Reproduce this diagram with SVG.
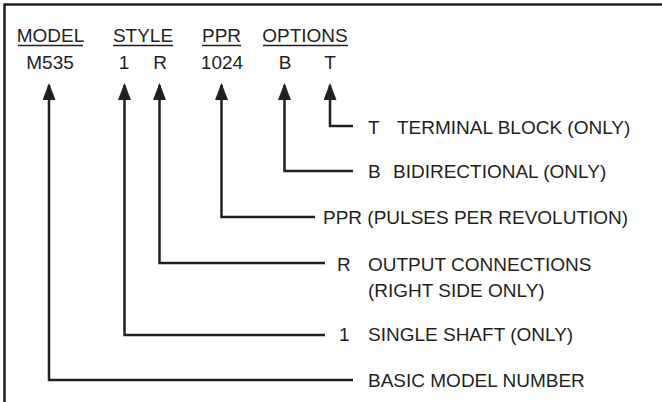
<svg xmlns="http://www.w3.org/2000/svg" width="662" height="402" viewBox="0 0 662 402">
<style>
text{font-family:"Liberation Sans",Arial,Helvetica,sans-serif;font-size:19px;fill:#231f20}
.mid{text-anchor:middle}
.c{fill:none;stroke:#231f20;stroke-width:2.5;marker-start:url(#ah)}
.ul{stroke:#231f20;stroke-width:1.3}
</style>
<defs>
<marker id="ah" markerUnits="userSpaceOnUse" viewBox="0 0 17 13" markerWidth="17" markerHeight="13" refX="15" refY="6.5" orient="auto-start-reverse">
<path d="M0,0 L17,6.5 L0,13 z" fill="#231f20"/>
</marker>
</defs>
<rect width="662" height="402" fill="#fff"/>
<path d="M4.5,402 V4.5 H662" fill="none" stroke="#231f20" stroke-width="2.5"/>
<g id="header">
<text class="mid" x="50.5" y="42">MODEL</text>
<line class="ul" x1="18" y1="45.5" x2="83" y2="45.5"/>
<text class="mid" x="143" y="42">STYLE</text>
<line class="ul" x1="113" y1="45.5" x2="173" y2="45.5"/>
<text class="mid" x="221.5" y="42">PPR</text>
<line class="ul" x1="202" y1="45.5" x2="241" y2="45.5"/>
<text class="mid" x="305" y="42">OPTIONS</text>
<line class="ul" x1="263" y1="45.5" x2="348" y2="45.5"/>
</g>
<g id="code">
<text class="mid" x="50" y="69">M535</text>
<text class="mid" x="124" y="69">1</text>
<text class="mid" x="160" y="69">R</text>
<text class="mid" x="222" y="69">1024</text>
<text class="mid" x="285" y="69">B</text>
<text class="mid" x="330" y="69">T</text>
</g>
<g id="connectors">
<path class="c" d="M49,85 V380 H353"/>
<path class="c" d="M124.5,85 V335 H325"/>
<path class="c" d="M159.5,85 V263 H325"/>
<path class="c" d="M221.5,85 V217 H315"/>
<path class="c" d="M284.5,85 V171 H353"/>
<path class="c" d="M330,85 V126 H353"/>
</g>
<g id="node-T"><text x="368" y="134">T</text><text x="397" y="134">TERMINAL BLOCK (ONLY)</text></g>
<g id="node-B"><text x="368" y="178">B</text><text x="393" y="178">BIDIRECTIONAL (ONLY)</text></g>
<g id="node-PPR"><text x="323" y="224">PPR (PULSES PER REVOLUTION)</text></g>
<g id="node-R"><text x="337" y="271">R</text><text x="368" y="271">OUTPUT CONNECTIONS</text><text x="368" y="297">(RIGHT SIDE ONLY)</text></g>
<g id="node-1"><text x="339" y="341">1</text><text x="368" y="341">SINGLE SHAFT (ONLY)</text></g>
<g id="node-model"><text x="368" y="387">BASIC MODEL NUMBER</text></g>
</svg>
